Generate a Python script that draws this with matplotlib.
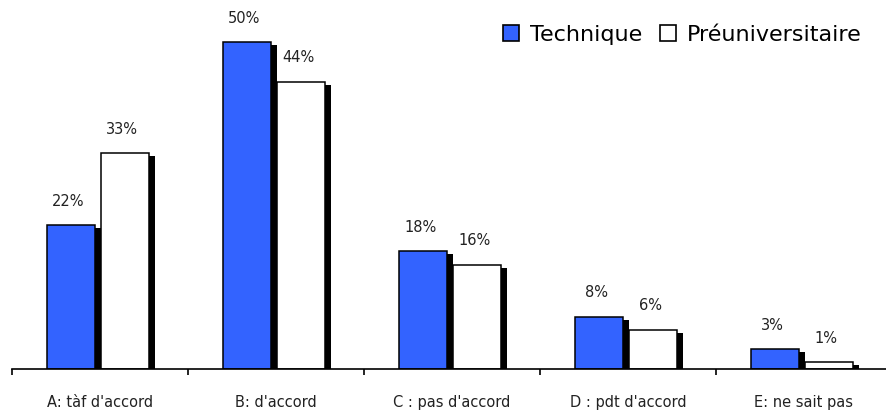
import numpy as np
import matplotlib
matplotlib.use('Agg')
from matplotlib import pyplot as plt
from matplotlib.lines import Line2D

categories = ["A: tàf d'accord", "B: d'accord", "C : pas d'accord",
              "D : pdt d'accord", "E: ne sait pas"]
technique = [22, 50, 18, 8, 3]
preuniv = [33, 44, 16, 6, 1]
series_names = ['Technique', 'Préuniversitaire']

blue = '#3363ff'
width = 0.273
shadow_dx = 0.033
shadow_dy = 0.46

plt.rcParams['font.family'] = ['DejaVu Sans']

fig = plt.figure(figsize=(8.86, 4.13), dpi=100)
ax = fig.add_axes([12/886, 44/413, 880/886, 369/413])

x = np.arange(len(categories))
offsets = [-0.30 + width/2, 0.005 + width/2]
colors = [blue, 'white']

for vals, off, col in zip([technique, preuniv], offsets, colors):
    vals = np.array(vals, dtype=float)
    # drop shadow
    ax.bar(x + off + shadow_dx, vals - shadow_dy, width, color='black',
           edgecolor='black', linewidth=0, zorder=1)
    ax.bar(x + off, vals, width, color=col, edgecolor='black',
           linewidth=1.1, zorder=2)
    for xi, v in zip(x + off, vals):
        ax.annotate('%d%%' % v, (xi, v), xytext=(-2, 12),
                    textcoords='offset points', ha='center', va='bottom',
                    fontsize=10.5, color='#222222')

ax.set_xlim(-0.5, len(categories) - 0.5)
ax.set_ylim(0, 56.5)

for s in ['left', 'right', 'top']:
    ax.spines[s].set_visible(False)
ax.spines['bottom'].set_linewidth(1.2)
ax.set_yticks([])

ax.set_xticks(np.arange(len(categories) + 1) - 0.5)
ax.set_xticklabels([])
ax.tick_params(axis='x', which='major', direction='out', length=4, width=1.2)
ax.set_xticks(x, minor=True)
ax.set_xticklabels(categories, minor=True, fontsize=10.5, color='#222222')
ax.tick_params(axis='x', which='minor', length=0, pad=19)

handles = [Line2D([], [], marker='s', linestyle='none', markersize=12,
                  markerfacecolor=c, markeredgecolor='black', markeredgewidth=1.2)
           for c in colors]
fig.legend(handles, series_names, loc='center right', bbox_to_anchor=(0.982, 0.915),
           ncol=2, frameon=False, fontsize=16, handletextpad=0.45,
           columnspacing=0.75, borderaxespad=0, handlelength=0.8)

fig.savefig('out.png', dpi=100)
